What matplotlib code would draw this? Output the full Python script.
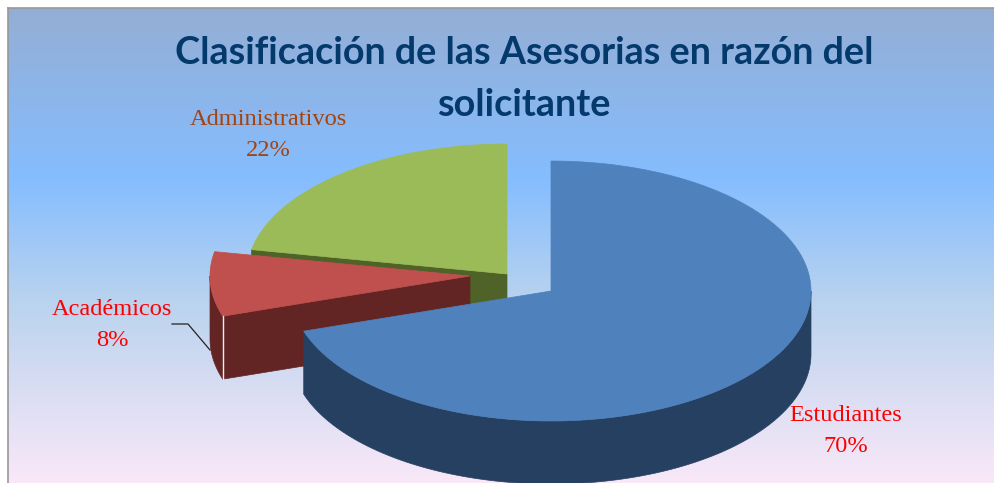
#!/usr/bin/env python

import numpy as np
import matplotlib
matplotlib.use("Agg")
import matplotlib.pyplot as plt
from matplotlib.colors import LinearSegmentedColormap
from matplotlib.patches import Polygon

categories = ["Estudiantes", "Académicos", "Administrativos"]
values = [70, 8, 22]
top_colors = ["#4F81BD", "#C0504D", "#9BBB59"]
side_colors = ["#254061", "#632523", "#4F6228"]
label_colors = ["#FF0000", "#FF0000", "#A5420E"]

W, H = 994, 483
RX, RY = 260, 130
DEPTH = 63

# every slice is exploded, so each one has its own centre (pixels)
centers = [(551, 291), (470, 276), (507, 274)]
label_pos = [(846, 431), (112, 325), (268, 135)]


def arc(c, a0, a1, dy=0):
    t = np.radians(np.linspace(a0, a1, 120))
    return np.column_stack([c[0] + RX * np.cos(t), c[1] - RY * np.sin(t) + dy])


def poly(ax, pts, color, z):
    ax.add_patch(Polygon(np.array(pts), closed=True, fc=color, ec=color, lw=0.5, zorder=z))


fig = plt.figure(figsize=(W / 100, H / 100), dpi=100)
ax = fig.add_axes([0, 0, 1, 1])
ax.axis("off")

# background gradient inside the frame
cmap = LinearSegmentedColormap.from_list(
    "bg", [(0, "#94AED5"), (0.36, "#85BDFF"), (0.62, "#BAD3EE"), (1, "#F9E8F8")]
)
grad = np.linspace(0, 1, 256).reshape(-1, 1)
ax.imshow(grad, cmap=cmap, extent=[8, W, H, 8], aspect="auto", zorder=0)
ax.plot([8, 8], [H, 8], color="#989898", lw=1.2, zorder=1)
ax.plot([8, W], [8, 8], color="#989898", lw=1.2, zorder=1)
ax.set_xlim(0, W)
ax.set_ylim(H, 0)

# slice angles, clockwise from 12 o'clock
angles = {}
start = 90
for name, v in zip(categories, values):
    angles[name] = (start, start - v * 3.6)
    start -= v * 3.6

# green slice: cut face then top
a0, a1 = angles["Administrativos"]
a0, a1 = a0 + 360, a1 + 360
c = centers[2]
edge = arc(c, a0, a0)[0]
poly(ax, [edge, c, (c[0], c[1] + DEPTH), (edge[0], edge[1] + DEPTH)], side_colors[2], 2)
poly(ax, np.vstack([[c], arc(c, a0, a1)]), top_colors[2], 3)

# red slice: cut face, outer wall, top
a0, a1 = angles["Académicos"]
a0, a1 = a0 + 360, a1 + 360
c = centers[1]
edge = arc(c, a0, a0)[0]
poly(ax, [edge, c, (c[0], c[1] + DEPTH), (edge[0], edge[1] + DEPTH)], side_colors[1], 4)
poly(ax, np.vstack([arc(c, 180, a0), arc(c, a0, 180, DEPTH)]), side_colors[1], 4)
poly(ax, np.vstack([[c], arc(c, a0, a1)]), top_colors[1], 5)
ax.plot([edge[0], edge[0]], [edge[1], edge[1] + DEPTH], color="#E8EEF5", lw=1, zorder=5)

# blue slice: outer wall then top
a0, a1 = angles["Estudiantes"]
c = centers[0]
wall_a = a1 + 360
poly(ax, np.vstack([arc(c, wall_a, 360), arc(c, 360, wall_a, DEPTH)]), side_colors[0], 6)
poly(ax, np.vstack([[c], arc(c, a0, a1)]), top_colors[0], 7)

# leader line for Académicos
ax.plot([172, 188, 210], [324, 324, 350], color="#222222", lw=0.9, zorder=8)

ax.text(524, 53, "Clasificación de las Asesorias en razón del", ha="center", va="center",
        family="Lato", weight="bold", fontsize=27.2, color="#04396C", zorder=9)
ax.text(524, 105, "solicitante", ha="center", va="center",
        family="Lato", weight="bold", fontsize=27.2, color="#04396C", zorder=9)

for name, v, col, p in zip(categories, values, label_colors, label_pos):
    ax.text(p[0], p[1], "{}\n{}%".format(name, v), ha="center", va="center", multialignment="center",
            family="Liberation Serif", fontsize=17.6, color=col, linespacing=1.66, zorder=9)

fig.savefig("out.png", dpi=100, facecolor="white")
